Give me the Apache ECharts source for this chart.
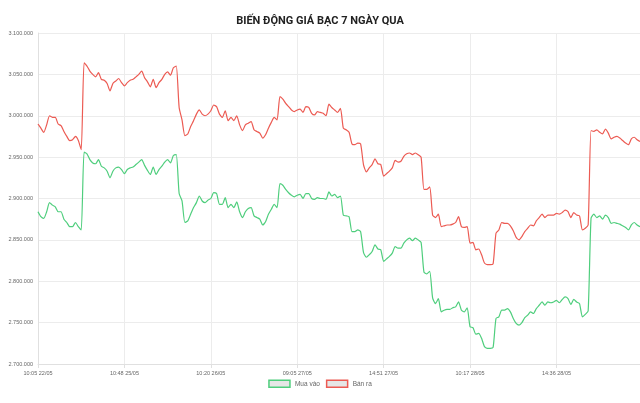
<!DOCTYPE html>
<html>
<head>
<meta charset="utf-8">
<script src="https://cdn.jsdelivr.net/npm/echarts@6/dist/echarts.min.js"></script>
<style>
  html, body { margin: 0; padding: 0; background: #fff; }
  #chart { width: 640px; height: 403px; }
</style>
</head>
<body>
<div id="chart"></div>
<script>
// nhan truc x (chi hien moi 30 diem)
var tickLabels = ['10:05 22/05', '10:48 25/05', '10:20 26/05', '09:05 27/05', '14:51 27/05', '10:17 28/05', '14:36 28/05'];
var tickStep = 30;

// gia mua vao (dong)
var muaVao = [
  2884000, 2878000, 2876000, 2884000, 2895000, 2892000, 2890000, 2884000, 2884000, 2875000,
  2871000, 2866000, 2866000, 2871000, 2866000, 2862000, 2956000, 2954000, 2947000, 2943000,
  2942000, 2947000, 2939000, 2937000, 2933000, 2925000, 2933000, 2937000, 2938000, 2935000,
  2930000, 2935000, 2937000, 2938000, 2941000, 2944000, 2947000, 2940000, 2934000, 2929000,
  2938000, 2929000, 2935000, 2939000, 2944000, 2947000, 2943000, 2952000, 2953000, 2906000,
  2897000, 2871000, 2873000, 2881000, 2889000, 2895000, 2903000, 2897000, 2895000, 2898000,
  2900000, 2907000, 2906000, 2893000, 2893000, 2901000, 2889000, 2893000, 2889000, 2896000,
  2884000, 2877000, 2884000, 2888000, 2889000, 2879000, 2877000, 2875000, 2868000, 2872000,
  2881000, 2887000, 2893000, 2889000, 2918000, 2916000, 2911000, 2907000, 2904000, 2902000,
  2904000, 2905000, 2900000, 2906000, 2906000, 2900000, 2899000, 2901000, 2900000, 2900000,
  2899000, 2908000, 2903000, 2905000, 2901000, 2903000, 2880000, 2879000, 2878000, 2860000,
  2860000, 2862000, 2860000, 2835000, 2829000, 2832000, 2836000, 2844000, 2839000, 2838000,
  2824000, 2827000, 2830000, 2834000, 2842000, 2840000, 2840000, 2846000, 2850000, 2852000,
  2849000, 2852000, 2850000, 2847000, 2811000, 2809000, 2812000, 2780000, 2773000, 2779000,
  2763000, 2765000, 2766000, 2766000, 2768000, 2769000, 2775000, 2765000, 2763000, 2768000,
  2745000, 2744000, 2736000, 2737000, 2731000, 2721000, 2719000, 2719000, 2720000, 2755000,
  2757000, 2765000, 2765000, 2767000, 2763000, 2755000, 2749000, 2747000, 2750000, 2756000,
  2759000, 2763000, 2761000, 2767000, 2771000, 2775000, 2771000, 2775000, 2774000, 2775000,
  2777000, 2774000, 2778000, 2781000, 2779000, 2772000, 2778000, 2775000, 2773000, 2757000,
  2760000, 2764000, 2876000, 2881000, 2877000, 2879000, 2875000, 2880000, 2877000, 2870000,
  2871000, 2870000, 2869000, 2867000, 2865000, 2862000, 2868000, 2871000, 2868000, 2866000
];

// gia ban ra (dong)
var banRa = [
  2990000, 2985000, 2980000, 2989000, 3000000, 2998000, 2998000, 2990000, 2988000, 2981000,
  2975000, 2970000, 2971000, 2975000, 2970000, 2959000, 3064000, 3060000, 3054000, 3050000,
  3047000, 3052000, 3044000, 3043000, 3039000, 3030000, 3039000, 3042000, 3045000, 3040000,
  3036000, 3040000, 3043000, 3044000, 3047000, 3050000, 3054000, 3046000, 3041000, 3035000,
  3044000, 3034000, 3040000, 3044000, 3050000, 3053000, 3049000, 3058000, 3060000, 3010000,
  2995000, 2976000, 2978000, 2987000, 2994000, 3002000, 3007000, 3002000, 3000000, 3002000,
  3006000, 3013000, 3011000, 3002000, 2998000, 3006000, 2994000, 2998000, 2994000, 3000000,
  2989000, 2982000, 2989000, 2991000, 2993000, 2983000, 2981000, 2979000, 2973000, 2977000,
  2985000, 2992000, 2998000, 2995000, 3023000, 3020000, 3015000, 3011000, 3007000, 3005000,
  3007000, 3008000, 3004000, 3011000, 3010000, 3003000, 3001000, 3005000, 3004000, 3003000,
  3000000, 3014000, 3010000, 3007000, 3004000, 3009000, 2985000, 2983000, 2980000, 2966000,
  2965000, 2967000, 2966000, 2941000, 2932000, 2937000, 2941000, 2948000, 2942000, 2941000,
  2927000, 2930000, 2933000, 2937000, 2946000, 2944000, 2945000, 2951000, 2954000, 2955000,
  2953000, 2955000, 2953000, 2950000, 2911000, 2911000, 2914000, 2880000, 2877000, 2881000,
  2866000, 2867000, 2868000, 2868000, 2869000, 2871000, 2878000, 2866000, 2865000, 2866000,
  2846000, 2847000, 2838000, 2839000, 2832000, 2822000, 2820000, 2820000, 2821000, 2858000,
  2862000, 2871000, 2870000, 2870000, 2867000, 2861000, 2853000, 2850000, 2854000, 2860000,
  2864000, 2868000, 2867000, 2873000, 2877000, 2881000, 2877000, 2880000, 2880000, 2880000,
  2882000, 2881000, 2883000, 2886000, 2884000, 2877000, 2883000, 2880000, 2879000, 2862000,
  2864000, 2868000, 2982000, 2981000, 2983000, 2980000, 2978000, 2984000, 2979000, 2972000,
  2974000, 2975000, 2973000, 2970000, 2967000, 2965000, 2972000, 2974000, 2971000, 2969000
];

var categories = muaVao.map(function (v, i) {
  return i % tickStep === 0 ? (tickLabels[i / tickStep] || '') : '';
});

function fmt(v) {
  return String(v).replace(/\B(?=(\d{3})+(?!\d))/g, '.');
}

var chart = echarts.init(document.getElementById('chart'));
var option = {
  animation: false,
  title: {
    text: 'BIẾN ĐỘNG GIÁ BẠC 7 NGÀY QUA',
    left: 'center',
    top: 11,
    textStyle: {
      fontFamily: 'Roboto',
      fontSize: 11,
      fontWeight: 'bold',
      color: '#222'
    }
  },
  grid: {
    left: 38,
    right: 0,
    top: 33,
    bottom: 39
  },
  legend: {
    bottom: 10,
    left: 'center',
    itemWidth: 21,
    itemHeight: 7,
    itemGap: 6,
    icon: 'rect',
    textStyle: { color: '#666', fontSize: 6.5, fontFamily: 'Liberation Sans' },
    data: [
      { name: 'Mua vào', itemStyle: { color: '#e6e6e6', borderColor: '#4fce7d', borderWidth: 1.5 } },
      { name: 'Bán ra', itemStyle: { color: '#e6e6e6', borderColor: '#ec5b53', borderWidth: 1.5 } }
    ]
  },
  xAxis: {
    type: 'category',
    boundaryGap: false,
    data: categories,
    axisLine: { lineStyle: { color: '#e0e0e0' } },
    axisTick: { show: true, interval: tickStep - 1, length: 4, lineStyle: { color: '#e0e0e0' } },
    axisLabel: {
      interval: tickStep - 1,
      color: '#666',
      fontSize: 5.5,
      fontFamily: 'Liberation Sans',
      margin: 6
    },
    splitLine: { show: true, interval: tickStep - 1, lineStyle: { color: '#ececec' } }
  },
  yAxis: {
    type: 'value',
    min: 2700000,
    max: 3100000,
    interval: 50000,
    axisLine: { show: true, lineStyle: { color: '#e0e0e0' } },
    axisTick: { show: false },
    axisLabel: {
      color: '#666',
      fontSize: 5.5,
      fontFamily: 'Liberation Sans',
      margin: 5,
      formatter: fmt
    },
    splitLine: { lineStyle: { color: '#ececec' } }
  },
  series: [
    {
      name: 'Mua vào',
      type: 'line',
      data: muaVao,
      smooth: 0.2,
      symbol: 'none',
      lineStyle: { color: '#4fce7d', width: 1.2 },
      itemStyle: { color: '#4fce7d' }
    },
    {
      name: 'Bán ra',
      type: 'line',
      data: banRa,
      smooth: 0.2,
      symbol: 'none',
      lineStyle: { color: '#ec5b53', width: 1.2 },
      itemStyle: { color: '#ec5b53' }
    }
  ]
};
chart.setOption(option);
</script>
</body>
</html>
